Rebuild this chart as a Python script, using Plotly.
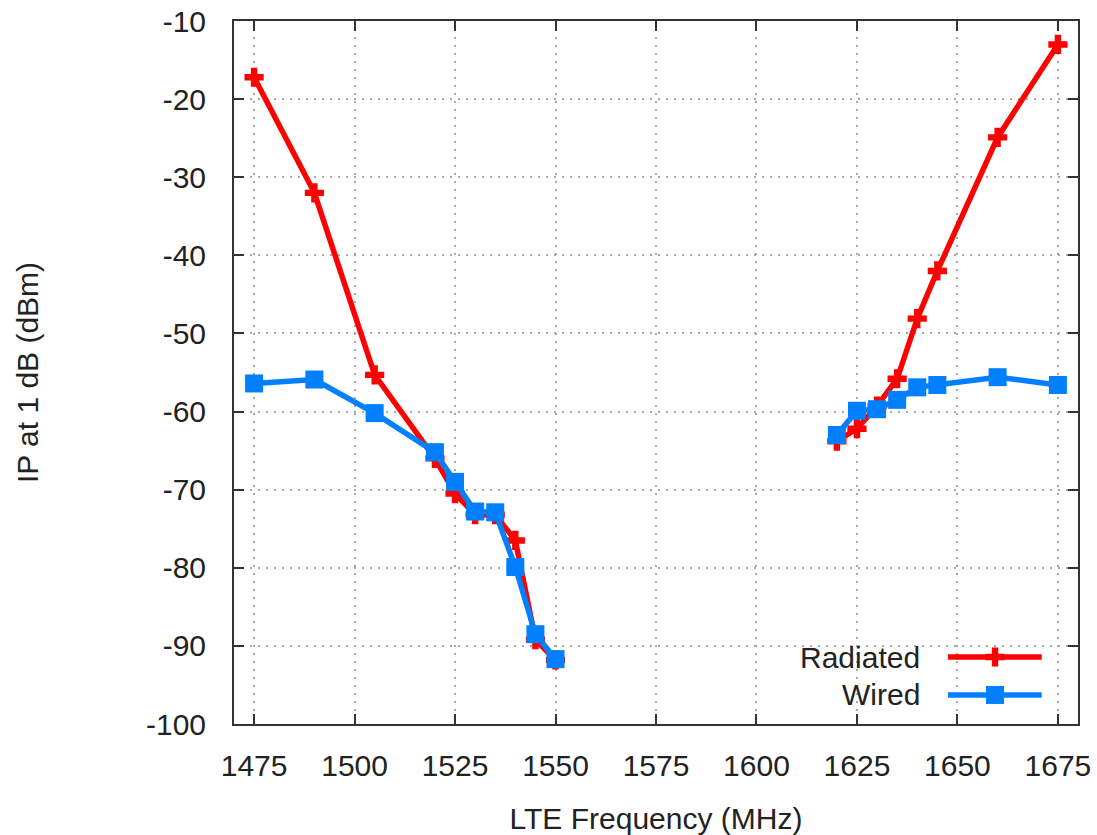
import plotly.graph_objects as go

# LTE band measurements (MHz) -- None splits the lower and upper band segments
freq_mhz = [1475, 1490, 1505, 1520, 1525, 1530, 1535, 1540, 1545, 1550,
            None,
            1620, 1625, 1630, 1635, 1640, 1645, 1660, 1675]
radiated_dbm = [-17.2, -32.0, -55.3, -66.0, -70.5, -73.2, -73.2, -76.5, -89.2, -91.8,
                None,
                -63.8, -62.2, -59.3, -55.8, -48.1, -42.0, -24.9, -13.0]
wired_dbm = [-56.4, -55.9, -60.2, -65.2, -69.0, -72.8, -72.9, -79.9, -88.5, -91.7,
             None,
             -63.0, -59.9, -59.7, -58.5, -56.9, -56.6, -55.6, -56.6]

x_ticks = [1475, 1500, 1525, 1550, 1575, 1600, 1625, 1650, 1675]
y_ticks = [-10, -20, -30, -40, -50, -60, -70, -80, -90, -100]
y_tick_text = ["-10", "-20", "-30", "-40", "-50", "-60", "-70", "-80", "-90", "-100"]

series_names = ["Radiated", "Wired"]

RED = "#ff0000"
BLUE = "#0080ff"
TEXT = "#222222"
FONT = "Liberation Sans, Arial, sans-serif"
FS = 30
LW = 5.5

fig = go.Figure()

fig.add_trace(go.Scatter(
    x=freq_mhz, y=radiated_dbm, name=series_names[0], mode="lines+markers",
    line=dict(color=RED, width=LW), connectgaps=False,
    marker=dict(symbol="cross", size=16, color=RED, line=dict(width=0)),
    showlegend=False,
))
fig.add_trace(go.Scatter(
    x=freq_mhz, y=wired_dbm, name=series_names[1], mode="lines+markers",
    line=dict(color=BLUE, width=LW), connectgaps=False,
    marker=dict(symbol="square", size=18, color=BLUE, line=dict(width=0)),
    showlegend=False,
))

# Key drawn in the lower-right corner: label on the left, sample on the right
key_rows = [0.0953, 0.0413]
key_styles = [("cross", 16, RED), ("square", 18, BLUE)]
for name, ky, (sym, sz, col) in zip(series_names, key_rows, key_styles):
    fig.add_trace(go.Scatter(
        x=[0.846, 0.957], y=[ky, ky], mode="lines",
        line=dict(color=col, width=LW), xaxis="x2", yaxis="y2",
        showlegend=False, hoverinfo="skip",
    ))
    fig.add_trace(go.Scatter(
        x=[0.9017], y=[ky], mode="markers",
        marker=dict(symbol=sym, size=sz, color=col, line=dict(width=0)),
        xaxis="x2", yaxis="y2", showlegend=False, hoverinfo="skip",
    ))
    fig.add_annotation(
        x=0.815, y=ky, xref="paper", yref="paper", text=name,
        showarrow=False, xanchor="right", yanchor="middle",
        font=dict(family=FONT, size=FS, color=TEXT),
    )

axis_common = dict(
    showline=True, linecolor="#333333", linewidth=2, mirror="allticks",
    ticks="inside", ticklen=10, tickwidth=2, tickcolor="#333333",
    showgrid=True, gridcolor="#a8a8a8", gridwidth=1.5, griddash="2px,6px",
    zeroline=False, automargin=False,
    tickfont=dict(family=FONT, size=FS, color=TEXT),
)

fig.update_layout(
    width=1097, height=835,
    margin=dict(l=234, r=19, t=21, b=111),
    paper_bgcolor="white", plot_bgcolor="white",
    font=dict(family=FONT, size=FS, color=TEXT),
    xaxis=dict(
        range=[1470, 1680], tickvals=x_ticks, ticklabelstandoff=14,
        title=dict(text="LTE Frequency (MHz)", standoff=28,
                   font=dict(family=FONT, size=FS, color=TEXT)),
        **axis_common,
    ),
    yaxis=dict(
        range=[-100, -10], tickvals=y_ticks, ticktext=y_tick_text,
        ticklabelstandoff=20,
        title=dict(text="IP at 1 dB (dBm)", standoff=98,
                   font=dict(family=FONT, size=FS, color=TEXT)),
        **axis_common,
    ),
    xaxis2=dict(range=[0, 1], overlaying="x", anchor="y2", visible=False),
    yaxis2=dict(range=[0, 1], overlaying="y", anchor="x2", visible=False),
)

fig.write_html("out.html")
